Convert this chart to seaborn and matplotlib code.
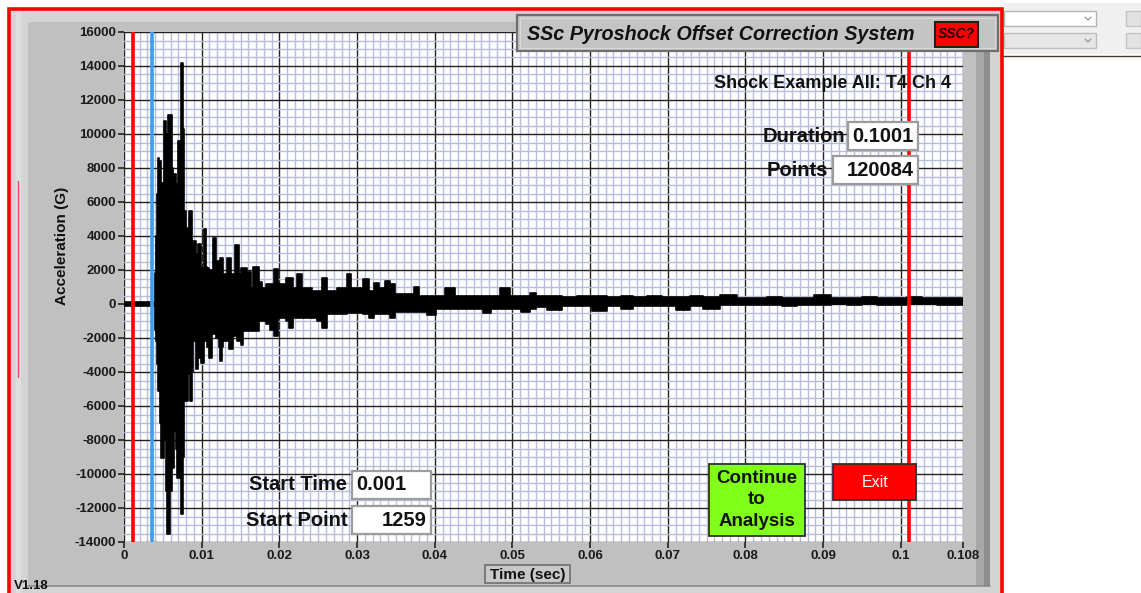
import numpy as np
import pandas as pd
import matplotlib
matplotlib.use("Agg")
import matplotlib.pyplot as plt
import seaborn as sns
from matplotlib.patches import Rectangle
from matplotlib.lines import Line2D
from matplotlib.ticker import MultipleLocator, FixedLocator


sns.set_style("white")
plt.rcParams['font.family'] = ['Liberation Sans', 'DejaVu Sans']

W, H = 1141, 593

# envelope of the shock record (time in s, acceleration in G)
time_s = [0.0, 0.00390,
          0.00399, 0.00412, 0.00425, 0.00438, 0.00450, 0.00463, 0.00476, 0.00489, 0.00502, 0.00515,
          0.00528, 0.00541, 0.00553, 0.00566, 0.00579, 0.00592, 0.00605, 0.00618, 0.00631, 0.00644,
          0.00656, 0.00669, 0.00682, 0.00695, 0.00708, 0.00721, 0.00734, 0.00746, 0.00759, 0.00772,
          0.00785, 0.00798, 0.00811, 0.00824, 0.00837, 0.00849, 0.00862, 0.00875, 0.00888, 0.00901,
          0.00914, 0.00927, 0.00940, 0.00952, 0.00965, 0.00978, 0.00991, 0.01004, 0.01017, 0.01030,
          0.01042, 0.01055, 0.01068, 0.01081, 0.01094, 0.01107, 0.01120, 0.01133, 0.01145, 0.01158,
          0.01171, 0.01184, 0.01197, 0.01210, 0.01223, 0.01236, 0.01248, 0.01261, 0.01274, 0.01287,
          0.01300, 0.01313, 0.01338, 0.01364, 0.01390, 0.01416, 0.01441, 0.01467, 0.01493, 0.01519,
          0.01544, 0.01570, 0.01596, 0.01622, 0.01647, 0.01686, 0.01725, 0.01763, 0.01802, 0.01853,
          0.01905, 0.01956, 0.02008, 0.02059, 0.02111, 0.02149, 0.02201, 0.02265, 0.02329, 0.02394,
          0.02458, 0.02523, 0.02587, 0.02651, 0.02716, 0.02780, 0.02844, 0.02896, 0.02960, 0.03037,
          0.03115, 0.03192, 0.03256, 0.03320, 0.03398, 0.03462, 0.03526, 0.03616, 0.03707, 0.03758,
          0.03835, 0.03964, 0.04067, 0.04196, 0.04324, 0.04453, 0.04582, 0.04672, 0.04775, 0.04903,
          0.05032, 0.05187, 0.05264, 0.05354, 0.05547, 0.05740, 0.05933, 0.06126, 0.06319, 0.06474,
          0.06641, 0.06834, 0.07027, 0.07194, 0.07375, 0.07542, 0.07799, 0.07992, 0.08185, 0.08378,
          0.08571, 0.08764, 0.08996, 0.09215, 0.09408, 0.09601, 0.09794, 0.09987, 0.10180, 0.10373,
          0.10566, 0.10800]

upper_g = [90, 90,
           1800, 4000, 6500, 8600, 8600, 8400, 8400, 7100, 7100, 10760,
           10760, 10760, 10000, 7500, 11100, 11100, 11100, 8000, 7650, 7650,
           7650, 7650, 7060, 7060, 9590, 9590, 7650, 14170, 14170, 10300,
           5470, 5470, 4500, 3700, 3700, 5470, 5470, 5470, 3700, 3700,
           3700, 2940, 2940, 2940, 3530, 3530, 3530, 2120, 2120, 2120,
           4410, 4410, 2200, 2120, 2120, 2000, 2000, 2000, 2000, 3880,
           3880, 3880, 2530, 2530, 2530, 2530, 2710, 2710, 2710, 1760,
           1760, 1760, 2710, 2710, 1760, 1760, 3470, 3470, 1760, 2100,
           2100, 2100, 1900, 1900, 940, 2180, 2180, 1300, 940, 1180,
           1180, 2060, 1180, 1180, 1530, 1530, 940, 1760, 940, 940,
           760, 760, 1530, 760, 760, 940, 940, 1760, 940, 940,
           1470, 760, 1240, 940, 1350, 1200, 590, 590, 590, 1000,
           470, 470, 470, 940, 470, 470, 470, 470, 470, 940,
           470, 500, 660, 450, 450, 400, 450, 450, 400, 450,
           400, 450, 400, 400, 450, 420, 530, 350, 350, 400,
           350, 350, 530, 350, 350, 400, 350, 350, 400, 350,
           350, 350]

lower_g = [-90, -90,
           -1500, -2200, -3500, -5100, -5100, -5100, -7000, -9060, -9060, -8000,
           -8000, -8000, -11000, -13530, -13530, -13530, -11000, -9650, -9650, -7470,
           -7470, -7470, -8500, -10230, -10230, -10230, -10230, -12350, -12350, -9000,
           -5700, -5700, -5700, -4120, -4120, -4120, -5700, -5700, -4000, -2180,
           -2180, -3820, -3820, -3820, -3170, -3170, -3170, -3470, -3470, -3470,
           -2180, -2180, -2180, -2500, -2500, -3170, -3170, -3170, -1760, -1760,
           -1760, -1760, -2000, -2000, -2500, -3350, -3350, -3350, -2500, -2180,
           -2180, -2180, -2180, -2650, -2650, -1900, -1900, -2180, -2180, -2400,
           -1590, -1590, -1590, -1590, -1590, -1590, -1590, -1000, -1000, -1200,
           -1500, -1880, -820, -820, -1000, -1410, -820, -820, -820, -820,
           -820, -1000, -1410, -590, -590, -590, -590, -530, -530, -530,
           -600, -820, -600, -590, -590, -820, -470, -470, -470, -470,
           -470, -650, -290, -290, -290, -290, -290, -530, -290, -290,
           -290, -450, -300, -150, -350, -100, -100, -400, -100, -300,
           -100, -100, -100, -350, -100, -300, -50, -50, -50, -50,
           -100, -50, -50, 0, -50, 0, -50, -50, 0, 0,
           -50, -50]

# cursors
start_cursor = 0.0011
trigger_cursor = 0.0036
end_cursor = 0.1010

x_ticks = [0, 0.01, 0.02, 0.03, 0.04, 0.05, 0.06, 0.07, 0.08, 0.09, 0.1, 0.108]
x_labels = ['0', '0.01', '0.02', '0.03', '0.04', '0.05', '0.06', '0.07', '0.08', '0.09', '0.1', '0.108']
y_ticks = list(range(-14000, 16001, 2000))

record = pd.DataFrame({'time': time_s, 'upper': upper_g, 'lower': lower_g})

fig = plt.figure(figsize=(W / 100, H / 100), dpi=100)
fig.patch.set_facecolor('white')


def box(x0, y0, x1, y1, fc, ec='none', lw=0, z=1):
    r = Rectangle((x0 / W, 1 - y1 / H), (x1 - x0) / W, (y1 - y0) / H,
                  transform=fig.transFigure, facecolor=fc, edgecolor=ec,
                  linewidth=lw, zorder=z)
    fig.add_artist(r)


def line(xs, ys, color, lw=1, z=1):
    fig.add_artist(Line2D([x / W for x in xs], [1 - y / H for y in ys],
                          transform=fig.transFigure, color=color, lw=lw, zorder=z))


def label(x, y, s, size, ha='left', weight='bold', color='#111111', **kw):
    fig.text(x / W, 1 - y / H, s, fontsize=size, ha=ha, va='center',
             fontweight=weight, color=color, zorder=6, **kw)


# window background
box(9, 9, 1002, 600, '#d4d4d4', z=-5)
box(16, 12, 21, 600, '#dedede', z=-5)
box(28, 22, 990, 586, '#c0c0c0', z=-4)
box(976, 22, 984, 586, '#a8a8a8', z=-4)
box(984, 22, 990, 586, '#8e8e8e', z=-4)
line([28, 990], [586, 586], '#8a8a8a', 1.2, -3)
line([18, 18], [181, 377], '#e05060', 1, 2)
box(9, 9, 1002, 600, 'none', '#ff0000', 2.6, 8)

# neighbouring window at the right
box(1003, 3, 1141, 54, '#f0f0f0', z=-5)
box(1004, 11, 1096, 26, 'white', '#b4b4b4', 1)
box(1004, 33, 1096, 48, '#e6e6e6', '#bcbcbc', 1)
box(1126, 11, 1141, 26, '#e2e2e2', '#c4c4c4', 1)
box(1126, 33, 1141, 48, '#e2e2e2', '#c4c4c4', 1)
line([1085, 1088, 1091], [17, 20, 17], '#909090', 0.8)
line([1085, 1088, 1091], [39, 42, 39], '#909090', 0.8)
line([1003, 1141], [56, 56], '#4a3a2a', 1)

# graph
ax = fig.add_axes([124 / W, 1 - 542 / H, (963 - 124) / W, (542 - 32) / H])
ax.set_facecolor('white')

ax.fill_between(record['time'], record['lower'], record['upper'], step='mid',
                color='black', lw=0, zorder=3)
sns.lineplot(data=record, x='time', y='upper', ax=ax, color='black', lw=1.2,
             drawstyle='steps-mid', estimator=None, sort=False, zorder=3)
sns.lineplot(data=record, x='time', y='lower', ax=ax, color='black', lw=1.2,
             drawstyle='steps-mid', estimator=None, sort=False, zorder=3)

ax.axvline(start_cursor, color='#ff0000', lw=2.6, zorder=4)
ax.axvline(trigger_cursor, color='#3d9ef2', lw=2.6, zorder=4)
ax.axvline(end_cursor, color='#ff0000', lw=2.6, zorder=4)

ax.set_xlim(0, 0.108)
ax.set_ylim(-14000, 16000)
ax.xaxis.set_major_locator(FixedLocator(x_ticks))
ax.set_xticklabels(x_labels)
ax.set_yticks(y_ticks)
ax.set_yticklabels([str(v) for v in y_ticks])
ax.xaxis.set_minor_locator(MultipleLocator(0.001))
ax.yaxis.set_minor_locator(MultipleLocator(500))
ax.grid(which='minor', color='#b6bedb', lw=1.0, zorder=0)
ax.grid(which='major', color='#222222', lw=1.0, zorder=1)
ax.set_axisbelow(True)
ax.tick_params(which='major', direction='out', length=4, width=1.2, color='#222222',
               labelsize=9.5, labelcolor='#1a1a1a', pad=1.5, left=True, bottom=True)
ax.tick_params(which='minor', length=0)
for t in ax.get_xticklabels() + ax.get_yticklabels():
    t.set_fontweight('bold')
for s in ax.spines.values():
    s.set_visible(False)
ax.set_xlabel('')
ax.set_ylabel('')

# axis captions
label(62, 246, 'Acceleration (G)', 11, ha='center', rotation=90)
box(485, 565, 570, 583, '#c8c8c8', '#6e6e6e', 1.2, 5)
label(527.5, 574.5, 'Time (sec)', 11, ha='center')
label(14, 586, 'V1.18', 9.5)

# title bar
box(517, 15, 998, 51, '#c4c4c4', '#6f6f6f', 1.6, 5)
box(520, 18, 995, 48, 'none', '#dadada', 0.8, 5)
label(527, 34, 'SSc Pyroshock Offset Correction System', 14.2, style='italic')
box(935, 22, 978, 47, '#ff0000', '#202020', 1.5, 5)
label(956.5, 34.5, 'SSC?', 10, ha='center', style='italic', color='#200000')

# indicators
label(832, 83, 'Shock Example All: T4 Ch 4', 13, ha='center')
label(845, 136, 'Duration', 14.5, ha='right')
box(848, 122, 918, 150, 'white', '#9c9c9c', 1.6, 5)
label(852, 136, '0.1001', 14.5)
label(828, 170, 'Points', 14.5, ha='right')
box(833, 156, 918, 184, 'white', '#9c9c9c', 1.6, 5)
label(914, 170, '120084', 14.5, ha='right')

label(347, 485, 'Start Time', 14.5, ha='right')
box(352, 471, 431, 499, 'white', '#9c9c9c', 1.6, 5)
label(356, 485, '0.001', 14.5)
label(348, 520, 'Start Point', 14.5, ha='right')
box(352, 506, 431, 534, 'white', '#9c9c9c', 1.6, 5)
label(427, 520, '1259', 14.5, ha='right')

# buttons
box(709, 464, 805, 536, '#80ff1a', '#303030', 1.3, 5)
label(757, 500, 'Continue\nto\nAnalysis', 13.5, ha='center', linespacing=1.32)
box(833, 464, 916, 500, '#ff0000', '#303030', 1.3, 5)
label(875, 482.5, 'Exit', 11.5, ha='center', weight='normal', color='white')

fig.savefig('out.png', dpi=100)
